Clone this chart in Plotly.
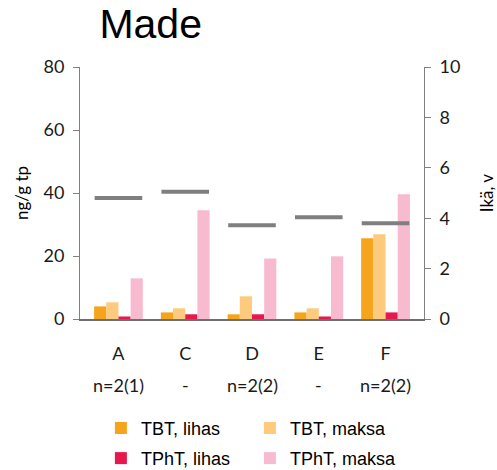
import plotly.graph_objects as go

# Sampling sites and number of pooled samples (age samples in parentheses)
sites = ["A", "C", "D", "E", "F"]
sample_notes = ["n=2(1)", "-", "n=2(2)", "-", "n=2(2)"]

# Organotin concentrations, ng/g dry weight
tbt_lihas = [4.0, 2.1, 1.5, 2.1, 25.6]
tbt_maksa = [5.3, 3.4, 7.2, 3.4, 26.9]
tpht_lihas = [0.8, 1.5, 1.5, 0.8, 2.1]
tpht_maksa = [12.9, 34.5, 19.2, 19.9, 39.6]

# Mean age of the fish, years
age = [4.8, 5.05, 3.72, 4.04, 3.8]

# name, values, colour, legend row
series = [
    ("TBT, lihas", tbt_lihas, "#F7A41D", "legend"),
    ("TBT, maksa", tbt_maksa, "#FDCA7E", "legend"),
    ("TPhT, lihas", tpht_lihas, "#E8184F", "legend2"),
    ("TPhT, maksa", tpht_maksa, "#F8BACE", "legend2"),
]

tick_font = dict(family="Lato, Open Sans, sans-serif", size=18, color="#1a1a1a")
axis_color = "#808080"

fig = go.Figure()
for name, vals, color, leg in series:
    fig.add_trace(go.Bar(x=sites, y=vals, name=name, marker_color=color,
                         marker_line_width=0, legend=leg))

fig.add_trace(go.Scatter(
    x=sites, y=age, yaxis="y2", mode="markers", showlegend=False,
    marker=dict(symbol="line-ew", size=34,
                line=dict(width=4, color="#7f7f7f")),
))

for site, note in zip(sites, sample_notes):
    fig.add_annotation(x=site, y=-0.262, xref="x", yref="paper",
                       text=note, showarrow=False, font=tick_font,
                       yanchor="middle")

legend_style = dict(orientation="h", xref="container", yref="container",
                    x=0.203, xanchor="left", yanchor="top",
                    entrywidth=104, entrywidthmode="pixels",
                    font=dict(family="Liberation Sans, Arial, sans-serif",
                              size=18, color="black"),
                    traceorder="normal", bgcolor="rgba(0,0,0,0)")

fig.update_layout(
    width=497, height=470,
    margin=dict(l=80, r=73, t=67, b=151, autoexpand=False),
    paper_bgcolor="white", plot_bgcolor="white",
    barmode="group", bargap=0.27, bargroupgap=0,
    title=dict(text="Made", x=0.2, xanchor="left", y=0.98, yanchor="top",
               font=dict(family="Liberation Sans, Arial, sans-serif", size=41,
                         color="black")),
    xaxis=dict(showline=True, linecolor="#6e6e6e", linewidth=1.5,
               ticks="", tickfont=tick_font, ticklabelstandoff=18,
               showgrid=False),
    yaxis=dict(range=[0, 80], dtick=20, showline=True, linecolor=axis_color,
               linewidth=1, ticks="outside", ticklen=6, tickcolor=axis_color,
               tickfont=tick_font, ticklabelstandoff=5, showgrid=False,
               zeroline=False,
               title=dict(text="ng/g tp", standoff=10,
                          font=dict(family="Lato, Open Sans, sans-serif",
                                    size=17, color="black"))),
    yaxis2=dict(range=[0, 10], dtick=2, overlaying="y", side="right",
                showline=True, linecolor=axis_color, linewidth=1,
                ticks="outside", ticklen=6, tickcolor=axis_color,
                tickfont=tick_font, ticklabelstandoff=5, showgrid=False,
                zeroline=False,
                title=dict(text="Ikä, v", standoff=24,
                           font=dict(family="Lato, Open Sans, sans-serif",
                                     size=17, color="black"))),
    legend=dict(legend_style, y=0.128),
    legend2=dict(legend_style, y=0.064),
    showlegend=True,
)

fig.write_html("out.html")
